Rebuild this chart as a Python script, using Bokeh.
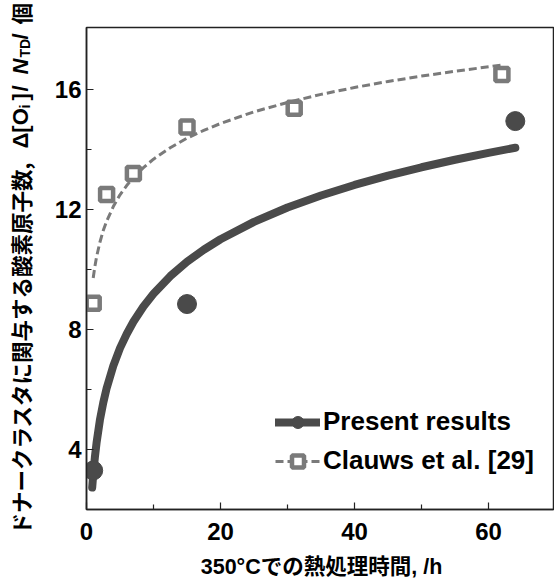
import math
from bokeh.plotting import figure
from bokeh.models import Legend, LegendItem, Range1d, FixedTicker
from bokeh.core.properties import value
from bokeh.embed import file_html
from bokeh.resources import INLINE

# ---- data ----
present_x = [1, 15, 64]
present_y = [3.3, 8.85, 14.95]

clauws_x = [1, 3, 7, 15, 31, 62]
clauws_y = [8.88, 12.5, 13.2, 14.75, 15.38, 16.5]

fit_present_x = [0.85, 1, 1.25, 1.5, 2, 2.5, 3, 4, 5, 6, 7, 8.5, 10, 12.5, 15, 17.5,
                 20, 25, 30, 35, 40, 45, 50, 55, 60, 64]
fit_present_y = [2.73, 3.16, 3.74, 4.22, 4.98, 5.56, 6.04, 6.79, 7.38, 7.85, 8.26, 8.77,
                 9.19, 9.78, 10.26, 10.66, 11.01, 11.59, 12.07, 12.47, 12.82, 13.13,
                 13.41, 13.66, 13.89, 14.06]

fit_clauws_x = [1, 1.25, 1.5, 2, 2.5, 3, 4, 5, 6, 7, 8.5, 10, 12.5, 15, 17.5, 20, 25,
                30, 35, 40, 45, 50, 55, 62]
fit_clauws_y = [9.72, 10.10, 10.42, 10.91, 11.30, 11.61, 12.10, 12.49, 12.80, 13.07,
                13.40, 13.68, 14.06, 14.38, 14.64, 14.87, 15.26, 15.57, 15.84, 16.07,
                16.27, 16.45, 16.61, 16.82]

x_ticks = [0, 20, 40, 60]
x_minor = [10, 30, 50]
y_ticks = [4, 8, 12, 16]
y_minor = [6, 10, 14]

legend_labels = ["Present results", "Clauws et al. [29]"]
x_label = "350°Cでの熱処理時間, /h"

LATIN = "Liberation Sans"
CJK = "Noto Sans CJK JP"
MIX = "Liberation Sans, Noto Sans CJK JP"

DARK = "#4a4a4a"
GRAY = "#7a7a7a"

W, H = 554, 581
FL, FR, FT, FB = 86, 553, 27, 509   # frame edges in page pixels

p = figure(width=W, height=H, output_backend="svg", toolbar_location=None,
           x_range=Range1d(0, 69.7), y_range=Range1d(2, 18.07),
           min_border_left=FL, min_border_top=FT, min_border_right=W - FR,
           min_border_bottom=H - FB)
# pixel-based helper ranges for the axis titles
p.extra_x_ranges = {"px": Range1d(FL, FR)}
p.extra_y_ranges = {"py": Range1d(FB, FT)}

p.background_fill_color = "white"
p.border_fill_color = "white"
p.outline_line_color = "#222222"
p.outline_line_width = 1.5
p.xgrid.visible = False
p.ygrid.visible = False

for ax in (p.xaxis[0], p.yaxis[0]):
    ax.axis_line_color = "#222222"
    ax.axis_line_width = 1.5
    ax.major_tick_in = 7
    ax.major_tick_out = 0
    ax.minor_tick_in = 5
    ax.minor_tick_out = 0
    ax.major_tick_line_color = "#222222"
    ax.minor_tick_line_color = "#222222"
    ax.major_tick_line_width = 1.2
    ax.minor_tick_line_width = 1.2
    ax.major_label_text_font = LATIN
    ax.major_label_text_font_style = "bold"
    ax.major_label_text_font_size = "24px"
    ax.major_label_text_color = "black"

p.xaxis.ticker = FixedTicker(ticks=x_ticks, minor_ticks=x_minor)
p.yaxis.ticker = FixedTicker(ticks=y_ticks, minor_ticks=y_minor)
p.xaxis.major_label_standoff = 13
p.yaxis.major_label_standoff = 5

# curves and points
l1 = p.line(fit_present_x, fit_present_y, line_color=DARK, line_width=8, line_cap="round")
l2 = p.line(fit_clauws_x, fit_clauws_y, line_color=GRAY, line_width=3, line_dash="8 4")
s2 = p.scatter(clauws_x, clauws_y, marker="square", size=13, fill_color="white",
               line_color=GRAY, line_width=4.5)
s1 = p.scatter(present_x, present_y, marker="circle", size=19, fill_color=DARK,
               line_color=DARK, line_width=1)

legend = Legend(items=[LegendItem(label=legend_labels[0], renderers=[l1, s1]),
                       LegendItem(label=legend_labels[1], renderers=[l2, s2])],
                location=(189, 33), orientation="vertical")
legend.border_line_color = None
legend.background_fill_alpha = 0
legend.label_text_font = LATIN
legend.label_text_font_style = "bold"
legend.label_text_font_size = "26px"
legend.label_text_color = "black"
legend.glyph_width = 45
legend.glyph_height = 30
legend.label_height = 30
legend.spacing = 8
legend.padding = 0
legend.margin = 0
legend.label_standoff = 3
p.add_layout(legend, "center")

# ---- x-axis title (page-pixel coordinates) ----
p.text(x=[321], y=[566], text=[x_label], x_range_name="px", y_range_name="py",
       text_font=value(MIX), text_font_style="bold", text_font_size="21.5px",
       text_align="center", text_baseline="middle", text_color="black", level="overlay")

# ---- y-axis title, built from pieces, rotated ----
ang = math.pi / 2
xc = 20
# (text, start position from the page top, sideways shift, font, style, size)
pieces = [
    ("ドナークラスタに関与する酸素原子数,", 534, 0, CJK, "bold", "21.5px"),
    ("Δ[O", 148, 0, LATIN, "bold", "22px"),
    ("i", 108, 4, LATIN, "bold", "14px"),
    ("]", 100, 0, LATIN, "bold", "22px"),
    ("/", 91, 0, LATIN, "bold", "22px"),
    ("N", 74, 0, LATIN, "bold italic", "22px"),
    ("TD", 57, 4, LATIN, "bold", "14px"),
    ("/", 39, 0, LATIN, "bold", "22px"),
    ("個", 24, 0, CJK, "bold", "21.5px"),
]
for txt, ys, dx, font, style, size in pieces:
    p.text(x=[xc + dx], y=[ys], text=[txt], angle=ang, x_range_name="px", y_range_name="py",
           text_font=value(font), text_font_style=style, text_font_size=size,
           text_align="left", text_baseline="middle", text_color="black", level="overlay")

open("out.html", "w").write(file_html(p, INLINE))
